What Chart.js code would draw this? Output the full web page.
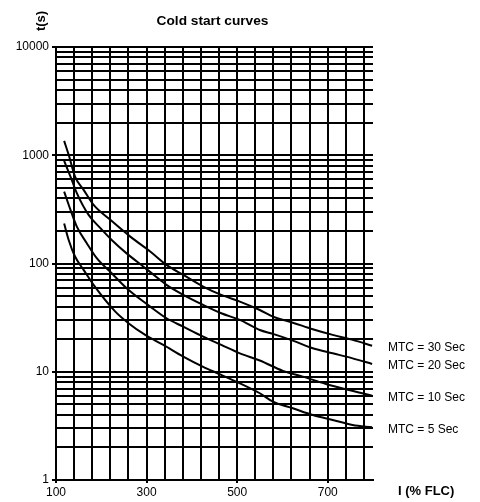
<!DOCTYPE html>
<html>
<head>
<meta charset="utf-8">
<script src="https://cdn.jsdelivr.net/npm/chart.js@4.4.1/dist/chart.umd.min.js"></script>
<style>
  html, body { margin: 0; padding: 0; background: #fff; }
  #wrap { width: 480px; height: 502px; position: relative; }
</style>
</head>
<body>
<div id="wrap"><canvas id="c"></canvas></div>
<script>
// ---- Data ----
const seriesLabels = ["MTC = 30 Sec", "MTC = 20 Sec", "MTC = 10 Sec", "MTC = 5 Sec"];

const current30 = [118, 128, 142, 161, 183, 220, 264, 308, 344, 381, 425, 465, 506, 550, 579, 623, 667, 711, 755, 798];
const time30    = [1358, 1009, 635, 479, 348, 253, 177, 129, 97, 78.5, 61.2, 51.3, 44.5, 37.2, 32.3, 28.4, 24.7, 21.9, 19.7, 17.4];

const current20 = [118, 132, 146, 172, 198, 223, 256, 293, 330, 344, 381, 425, 465, 506, 550, 579, 623, 667, 711, 755, 798];
const time20    = [888, 635, 447, 281, 212, 165, 124, 93.5, 70.5, 63.4, 51.3, 41.4, 34.7, 30.1, 24.3, 22.4, 19.4, 16.5, 14.8, 13.3, 11.8];

const current10 = [118, 132, 146, 168, 190, 223, 256, 308, 344, 381, 425, 465, 506, 550, 601, 645, 696, 740, 798];
const time10    = [462, 313, 219, 154, 112, 81.3, 59.1, 40.0, 31.2, 26.1, 21.1, 17.7, 14.8, 12.7, 10.2, 9.01, 7.71, 6.89, 6.01];

const current5  = [118, 128, 142, 161, 183, 231, 260, 297, 337, 381, 425, 465, 550, 579, 623, 667, 711, 755, 798];
const time5     = [234, 165, 116, 87.3, 63.4, 35.9, 28.1, 21.9, 17.7, 13.8, 11.1, 9.34, 6.33, 5.29, 4.60, 3.99, 3.59, 3.22, 3.07];

const xMin = 100, xMax = 800, xGridStep = 40;
const xLabelTicks = [100, 300, 500, 700];
const yMin = 1, yMax = 10000;
const yLabelTicks = [1, 10, 100, 1000, 10000];

const titleText = "Cold start curves";
const xTitle = "I (% FLC)";
const yTitle = "t(s)";

// ---- Build chart ----
const FONT = '"Liberation Sans", Arial, Helvetica, sans-serif';
function pts(xs, ys) { return xs.map((x, i) => ({ x: x, y: ys[i] })); }
const seriesData = [pts(current30, time30), pts(current20, time20), pts(current10, time10), pts(current5, time5)];

function isDecade(v) {
  const l = Math.log10(v);
  return Math.abs(l - Math.round(l)) < 1e-9;
}

const annotate = {
  id: 'annotate',
  afterDraw(chart) {
    const ctx = chart.ctx;
    const area = chart.chartArea;
    const ys = chart.scales.y;
    ctx.save();
    ctx.fillStyle = '#000';
    // title
    ctx.font = 'bold 13.7px ' + FONT;
    ctx.textAlign = 'center';
    ctx.textBaseline = 'middle';
    ctx.fillText(titleText, (area.left + area.right) / 2 - 2, 21);
    // y title (rotated)
    ctx.save();
    ctx.translate(41, 21);
    ctx.rotate(-Math.PI / 2);
    ctx.font = 'bold 13px ' + FONT;
    ctx.textAlign = 'center';
    ctx.textBaseline = 'middle';
    ctx.fillText(yTitle, 0, 0);
    ctx.restore();
    // x title
    ctx.font = 'bold 13px ' + FONT;
    ctx.textAlign = 'left';
    ctx.textBaseline = 'middle';
    ctx.fillText(xTitle, area.right + 25, 491);
    // series labels at end of each curve
    ctx.font = '12px ' + FONT;
    chart.data.datasets.forEach((ds) => {
      const last = ds.data[ds.data.length - 1];
      const py = ys.getPixelForValue(last.y);
      ctx.fillText(ds.label, area.right + 15, py + 2);
    });
    ctx.restore();
  }
};

new Chart(document.getElementById('c'), {
  type: 'line',
  data: {
    datasets: seriesData.map((d, i) => ({
      label: seriesLabels[i],
      data: d,
      borderColor: '#000',
      borderWidth: 2,
      pointRadius: 0,
      fill: false,
      cubicInterpolationMode: 'monotone'
    }))
  },
  options: {
    responsive: true,
    maintainAspectRatio: false,
    animation: false,
    devicePixelRatio: 1,
    layout: { padding: { top: 47, right: 107, left: 0, bottom: 0 } },
    plugins: { legend: { display: false }, title: { display: false }, tooltip: { enabled: false } },
    scales: {
      x: {
        type: 'linear',
        min: xMin, max: xMax,
        afterBuildTicks(scale) {
          const t = [];
          for (let v = xMin; v < xMax; v += xGridStep) t.push({ value: v });
          scale.ticks = t;
        },
        afterFit(scale) { scale.height = 22; },
        border: { display: true, color: '#000', width: 2 },
        grid: {
          color: '#000',
          lineWidth: 2,
          drawTicks: true,
          tickLength: 3,
          tickWidth: 2,
          tickColor: (c) => (c.tick && xLabelTicks.includes(c.tick.value)) ? '#000' : 'rgba(0,0,0,0)'
        },
        ticks: {
          autoSkip: false,
          maxRotation: 0,
          padding: 2,
          color: '#000',
          font: { family: FONT, size: 12 },
          callback: (v) => xLabelTicks.includes(v) ? String(v) : ''
        }
      },
      y: {
        type: 'logarithmic',
        min: yMin, max: yMax,
        afterBuildTicks(scale) {
          const t = [];
          for (let d = yMin; d < yMax; d *= 10) {
            for (let k = 1; k <= 9; k++) t.push({ value: k * d });
          }
          t.push({ value: yMax });
          scale.ticks = t;
        },
        afterFit(scale) { scale.width = 56; },
        border: { display: true, color: '#000', width: 2 },
        grid: {
          color: '#000',
          lineWidth: 2,
          drawTicks: true,
          tickLength: 4,
          tickWidth: 2,
          tickColor: (c) => (c.tick && isDecade(c.tick.value)) ? '#000' : 'rgba(0,0,0,0)'
        },
        ticks: {
          autoSkip: false,
          padding: 3,
          color: '#000',
          font: { family: FONT, size: 12 },
          callback: (v) => yLabelTicks.includes(v) ? String(v) : ''
        }
      }
    }
  },
  plugins: [annotate]
});
</script>
</body>
</html>
